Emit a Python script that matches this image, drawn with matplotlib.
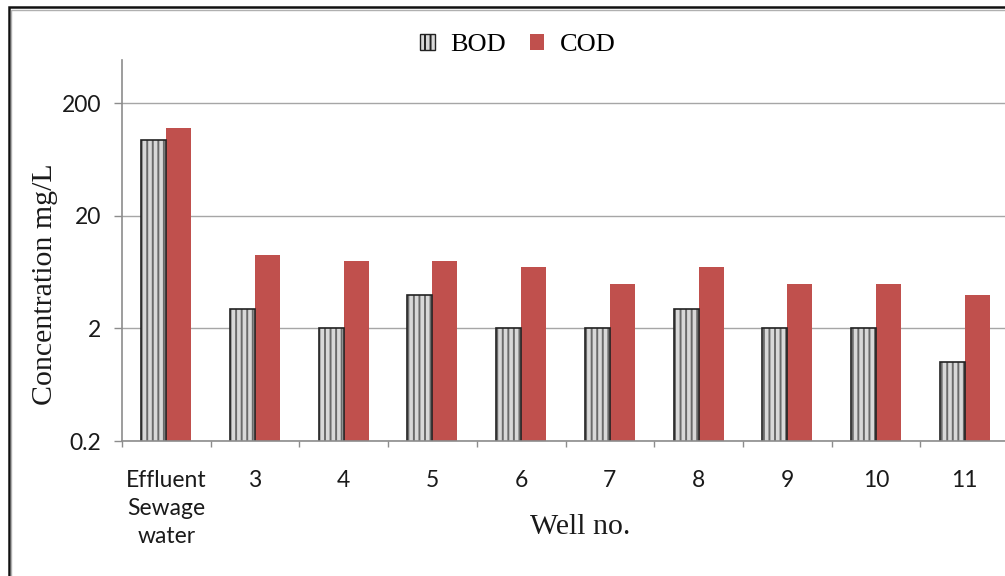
import numpy as np
import matplotlib
matplotlib.use('Agg')
import matplotlib.pyplot as plt
from matplotlib.patches import Patch, Rectangle
from matplotlib.ticker import FixedLocator, FixedFormatter, NullLocator

wells = ['Effluent\nSewage\nwater', '3', '4', '5', '6', '7', '8', '9', '10', '11']
bod = [95, 3, 2, 4, 2, 2, 3, 2, 2, 1]
cod = [120, 9, 8, 8, 7, 5, 7, 5, 5, 4]
yticks = [0.2, 2, 20, 200]
ytick_labels = ['0.2', '2', '20', '200']

red = '#C0504D'
grid_col = '#a6a6a6'
plt.rcParams['hatch.linewidth'] = 1.4

W, H = 1005, 576
fig = plt.figure(figsize=(W / 100, H / 100), dpi=100)
ax = fig.add_axes([122 / W, 1 - 441 / H, 887 / W, (441 - 60) / H])

x = np.arange(len(wells))
bw = 0.282

# BOD: striped grey bars, outline drawn separately
ax.bar(x - bw / 2, bod, bw, color='#d8d8d8', hatch='|||', edgecolor='#6a6a6a',
       linewidth=0, zorder=3)
ax.bar(x - bw / 2, bod, bw, fill=False, edgecolor='#222222', linewidth=1.2, zorder=4)
ax.bar(x + bw / 2, cod, bw, color=red, edgecolor='none', zorder=3)

ax.set_yscale('log')
ax.set_ylim(0.2, 485)
ax.set_xlim(-0.5, len(wells) - 0.5)
ax.yaxis.set_major_locator(FixedLocator(yticks))
ax.yaxis.set_major_formatter(FixedFormatter(ytick_labels))
ax.yaxis.set_minor_locator(NullLocator())
ax.grid(axis='y', color=grid_col, linewidth=1.0, zorder=0)

ax.set_xticks(x)
ax.set_xticklabels(wells, linespacing=1.4)
ax.set_xticks(np.arange(len(wells) + 1) - 0.5, minor=True)

tick_font = 'Lato'
for lab in ax.get_xticklabels() + ax.get_yticklabels():
    lab.set_fontfamily(tick_font)
    lab.set_fontsize(16.5)
    lab.set_color('#1a1a1a')

ax.tick_params(axis='x', which='major', length=0, pad=21)
ax.tick_params(axis='x', which='minor', length=4.5, color='#8c8c8c', width=1)
ax.tick_params(axis='y', which='major', length=6, color='#8c8c8c', width=1, pad=9)

for s in ['top', 'right']:
    ax.spines[s].set_visible(False)
for s in ['left', 'bottom']:
    ax.spines[s].set_color('#8c8c8c')
    ax.spines[s].set_linewidth(1.2)
    ax.spines[s].set_zorder(5)

serif = 'Liberation Serif'
fig.text(45 / W, 1 - 284 / H, 'Concentration mg/L', fontfamily=serif, fontsize=21.5,
         rotation=90, ha='center', va='center', color='#1a1a1a')
fig.text(580 / W, 1 - 527 / H, 'Well no.', fontfamily=serif, fontsize=21.5,
         ha='center', va='center', color='#1a1a1a')

handles = [Patch(facecolor='#d8d8d8', edgecolor='#222222', hatch='|||', linewidth=1.0),
           Patch(facecolor=red, edgecolor='none')]
fig.legend(handles, ['BOD', 'COD'], loc='center', bbox_to_anchor=(518 / W, 1 - 45 / H),
           ncol=2, frameon=False, prop={'family': serif, 'size': 19},
           handlelength=0.55, handleheight=0.55, handletextpad=0.6, columnspacing=0.9)

# outer chart border
fig.patches.append(Rectangle((9 / W, -0.1), 1.2, 1.1 - 7 / H, transform=fig.transFigure,
                             fill=False, edgecolor='#111111', linewidth=1.8))
fig.patches.append(Rectangle((11 / W, -0.1), 1.2, 1.1 - 9.5 / H, transform=fig.transFigure,
                             fill=False, edgecolor='#b0b0b0', linewidth=1.0))

fig.savefig('out.png', dpi=100)
